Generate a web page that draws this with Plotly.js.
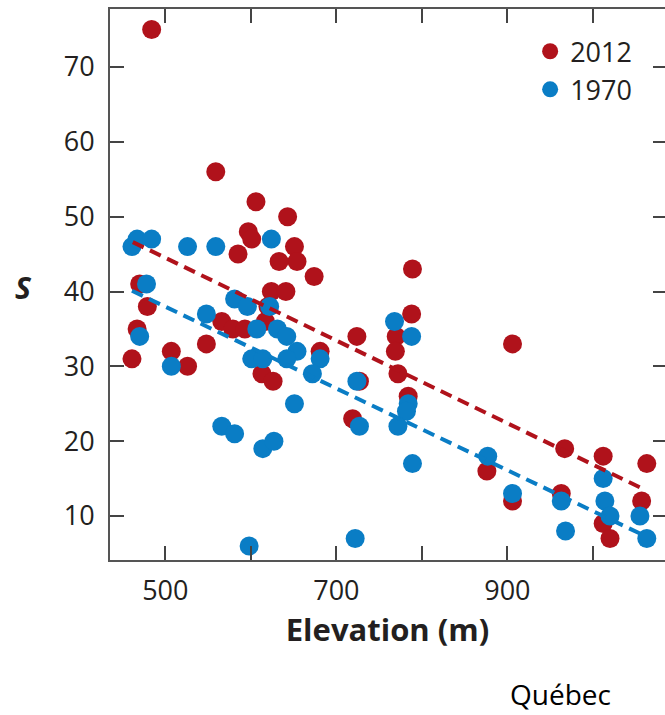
<!DOCTYPE html>
<html>
<head>
<meta charset="utf-8">
<script src="https://cdn.plot.ly/plotly-3.0.1.min.js"></script>
<style>html,body{margin:0;padding:0;background:#fff;}#chart{width:665px;height:715px;}</style>
</head>
<body>
<div id="chart"></div>
<script>
// 2012 survey: elevation (m) and species richness S
const elev2012 = [484,559,606,643,597,601,585,651,654,633,674,624,641,566,579,593,617,620,724,470,479,467,461,507,526,548,613,626,681,727,719,789,788,770,769,772,784,906,967,1012,1063,876,906,963,1012,1020,1057];
const s2012    = [75,56,52,50,48,47,45,46,44,44,42,40,40,36,35,35,36,38,34,41,38,35,31,32,30,33,29,28,32,28,23,43,37,34,32,29,26,33,19,18,17,16,12,13,9,7,12];
// 1970 survey
const elev1970 = [461,467,484,526,559,624,478,470,507,548,581,596,622,607,631,642,654,601,614,642,681,672,651,724,727,566,581,614,627,598,722,768,788,784,782,772,789,877,906,963,968,1012,1014,1020,1055,1063];
const s1970    = [46,47,47,46,46,47,41,34,30,37,39,38,38,35,35,34,32,31,31,31,31,29,25,28,22,22,21,19,20,6,7,36,34,25,24,22,17,18,13,12,8,15,12,10,10,7];
// fitted trend lines (endpoints)
const fit2012X = [462,1061], fit2012Y = [46.6,13.5];
const fit1970X = [461,1056], fit1970Y = [40.1,7.6];
const xTickVals = [500,600,700,800,900,1000];
const xTickText = ['500','','700','','900',''];
const yTickVals = [10,20,30,40,50,60,70];
const seriesNames = ['2012','1970'];

const RED = '#B0121B', BLUE = '#0A7DC5';
const FONT = 'Open Sans, Liberation Sans, sans-serif';
const TXT = '#231f20';

const traces = [
  {x: elev2012, y: s2012, type:'scatter', mode:'markers', name: seriesNames[0],
   marker:{color:RED, size:19}},
  {x: elev1970, y: s1970, type:'scatter', mode:'markers', name: seriesNames[1],
   marker:{color:BLUE, size:19}},
  {x: fit2012X, y: fit2012Y, type:'scatter', mode:'lines', showlegend:false,
   line:{color:RED, width:4, dash:'12px,7px'}},
  {x: fit1970X, y: fit1970Y, type:'scatter', mode:'lines', showlegend:false,
   line:{color:BLUE, width:4, dash:'12px,7px'}},
  // carrier for the right-hand tick axis (invisible)
  {x: fit1970X, y: fit1970Y, type:'scatter', mode:'lines', yaxis:'y2', showlegend:false,
   hoverinfo:'skip', opacity:0, line:{color:BLUE, width:0}}
];

const layout = {
  width:665, height:715,
  margin:{l:110, r:0, t:9, b:155},
  paper_bgcolor:'#fff', plot_bgcolor:'#fff',
  showlegend:true,
  legend:{x:0.757, xanchor:'left', y:0.967, yanchor:'top', yref:'paper',
    font:{family:FONT, size:27, color:TXT}, bgcolor:'rgba(0,0,0,0)',
    itemsizing:'trace', tracegroupgap:0},
  xaxis:{range:[435.3,1084.3], showgrid:false, zeroline:false,
    showline:true, linecolor:'#555', linewidth:2, mirror:'ticks',
    ticks:'inside', ticklen:14, tickwidth:2, tickcolor:'#444',
    tickvals:xTickVals, ticktext:xTickText, ticklabelstandoff:6,
    tickfont:{family:FONT, size:27, color:TXT},
    title:{text:'<b>Elevation (m)</b>', standoff:8, font:{family:FONT, size:31, color:TXT}}},
  yaxis:{range:[4.12,77.75], showgrid:false, zeroline:false,
    showline:true, linecolor:'#555', linewidth:2, mirror:false,
    ticks:'inside', ticklen:14, tickwidth:2, tickcolor:'#444',
    tickvals:yTickVals, ticklabelstandoff:8,
    tickfont:{family:FONT, size:27, color:TXT}},
  yaxis2:{range:[4.12,77.75], overlaying:'y', side:'right', showgrid:false, zeroline:false,
    showline:false, ticks:'inside', ticklen:12, tickwidth:2, tickcolor:'#444',
    tickvals:yTickVals, showticklabels:false},
  annotations:[
    {text:'<b><i>S</i></b>', xref:'paper', yref:'y', x:-0.155, y:40.5, showarrow:false,
     font:{family:FONT, size:30, color:TXT}, xanchor:'center', yanchor:'middle'},
    {text:'Québec', xref:'paper', yref:'paper', x:0.811, y:-0.243, showarrow:false,
     font:{family:'Open Sans, sans-serif', size:28, color:'#000'}, xanchor:'center', yanchor:'middle'}
  ]
};

Plotly.newPlot('chart', traces, layout, {displayModeBar:false, staticPlot:true});
</script>
</body>
</html>
